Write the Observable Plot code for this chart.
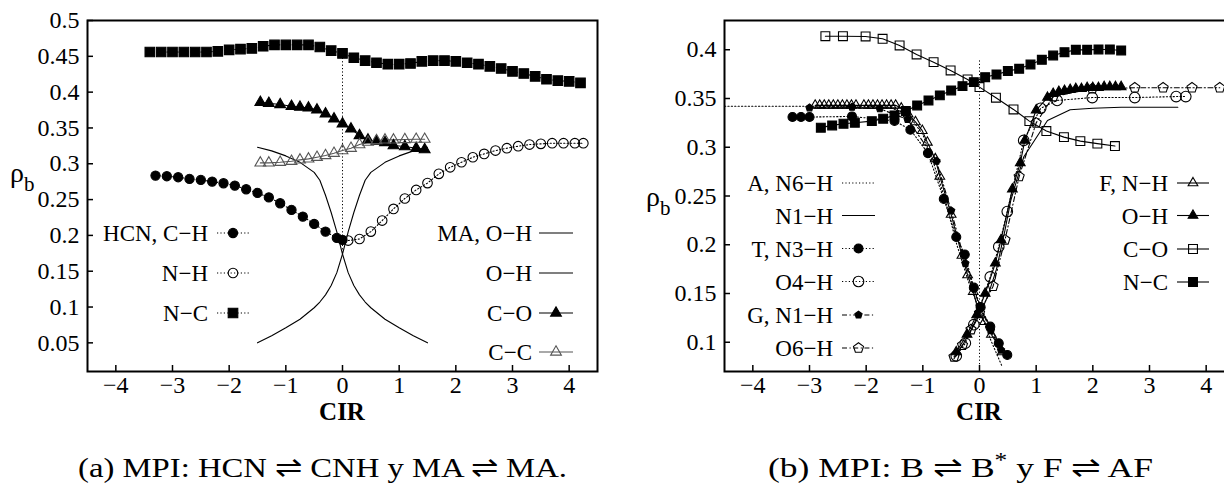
<!DOCTYPE html>
<html><head><meta charset="utf-8">
<script src="https://cdn.jsdelivr.net/npm/d3@7"></script>
<script src="https://cdn.jsdelivr.net/npm/@observablehq/plot@0.6"></script>
<style>
html,body{margin:0;padding:0;background:#fff;overflow:hidden;}
#root{position:relative;width:1224px;height:489px;overflow:hidden;background:#fff;}
.panel{position:absolute;top:0;}
</style></head><body><div id="root"></div>
<script>
// ---------- shared ticks ----------
const xTicks = [-4, -3, -2, -1, 0, 1, 2, 3, 4];
const yTicksA = [0.05, 0.1, 0.15, 0.2, 0.25, 0.3, 0.35, 0.4, 0.45, 0.5];
const yTicksB = [0.1, 0.15, 0.2, 0.25, 0.3, 0.35, 0.4];
const xDomain = [-4.5, 4.5];
const yDomainA = [0.01, 0.5];
const yDomainB = [0.07, 0.43];

// ---------- panel (a): HCN / MA ----------
const hcnCH_x = [-3.3,-3.1,-2.9,-2.7,-2.5,-2.3,-2.1,-1.9,-1.7,-1.5,-1.3,-1.1,-0.9,-0.7,-0.5,-0.3,-0.1,0.0];
const hcnCH_y = [0.2835,0.2826,0.2812,0.2789,0.2775,0.2751,0.2728,0.2696,0.2644,0.2593,0.253,0.2449,0.2356,0.2263,0.216,0.2053,0.1965,0.1937];
const hcnNH_x = [0.1,0.3,0.5,0.7,0.9,1.1,1.3,1.5,1.7,1.9,2.1,2.3,2.5,2.7,2.9,3.1,3.3,3.5,3.7,3.9,4.1,4.25];
const hcnNH_y = [0.1928,0.195,0.2053,0.2207,0.237,0.2515,0.2635,0.273,0.2859,0.2951,0.3021,0.3091,0.3138,0.3184,0.3217,0.3245,0.3268,0.3278,0.3287,0.3287,0.3287,0.3287];
const hcnNC_x = [-3.4,-3.2,-3.0,-2.8,-2.6,-2.4,-2.2,-2.0,-1.8,-1.6,-1.4,-1.2,-1.0,-0.8,-0.6,-0.4,-0.2,0.0,0.2,0.4,0.6,0.8,1.0,1.2,1.4,1.6,1.8,2.0,2.2,2.4,2.6,2.8,3.0,3.2,3.4,3.6,3.8,4.0,4.2];
const hcnNC_y = [0.456,0.456,0.456,0.456,0.456,0.456,0.457,0.459,0.460,0.461,0.464,0.466,0.466,0.466,0.466,0.463,0.458,0.454,0.448,0.444,0.441,0.439,0.439,0.440,0.443,0.444,0.444,0.443,0.441,0.439,0.436,0.433,0.429,0.426,0.422,0.418,0.416,0.415,0.413];
const maOH1_x = [-1.5,-1.25,-1.0,-0.75,-0.5,-0.4,-0.3,-0.2,-0.1,0.0,0.1,0.2,0.3,0.4,0.5,0.75,1.0,1.25,1.5];
const maOH1_y = [0.323,0.318,0.311,0.302,0.288,0.277,0.256,0.232,0.205,0.174,0.148,0.130,0.117,0.107,0.099,0.083,0.071,0.060,0.050];
const maOH2_x = [-1.5,-1.25,-1.0,-0.75,-0.5,-0.4,-0.3,-0.2,-0.1,0.0,0.1,0.2,0.3,0.4,0.5,0.75,1.0,1.25,1.5];
const maOH2_y = [0.050,0.060,0.071,0.083,0.099,0.107,0.117,0.130,0.148,0.174,0.205,0.232,0.256,0.277,0.288,0.302,0.311,0.318,0.323];
const maCO_x = [-1.45,-1.3,-1.1,-0.9,-0.75,-0.6,-0.45,-0.3,-0.15,0.0,0.15,0.3,0.45,0.6,0.75,0.9,1.1,1.3,1.45];
const maCO_y = [0.3859,0.3845,0.3827,0.3803,0.379,0.378,0.3752,0.3697,0.3627,0.3557,0.3487,0.3394,0.3333,0.3315,0.3296,0.3254,0.324,0.3217,0.3198];
const maCC_x = [-1.45,-1.3,-1.1,-0.9,-0.75,-0.6,-0.45,-0.3,-0.15,0.0,0.15,0.3,0.45,0.6,0.75,0.9,1.1,1.3,1.45];
const maCC_y = [0.3012,0.3012,0.3021,0.3035,0.3054,0.3068,0.3091,0.3115,0.3147,0.3184,0.3217,0.3268,0.3301,0.3324,0.3333,0.3333,0.3338,0.3343,0.3343];
const guideA = {x: 0, y1: 0.175, y2: 0.454};

// ---------- panel (b): bases ----------
const aN6H_x = [-4.5,-3.0,-2.0,-1.6,-1.4,-1.2,-1.0,-0.8,-0.6,-0.4,-0.2,0.0,0.2,0.4];
const aN6H_y = [0.342,0.342,0.342,0.341,0.337,0.329,0.313,0.282,0.245,0.200,0.163,0.133,0.102,0.075];
const aN1H_x = [-0.45,-0.3,-0.15,0.0,0.15,0.3,0.45,0.55,0.78,1.2,1.6,2.0,2.5,3.0,3.5];
const aN1H_y = [0.083,0.097,0.112,0.128,0.148,0.175,0.215,0.245,0.290,0.3275,0.3385,0.340,0.341,0.341,0.341];
const tN3H_x = [-3.3,-3.15,-3.0,-2.25,-1.5,-1.22,-0.91,-0.63,-0.41,-0.26,-0.1,0.02,0.19,0.34,0.49];
const tN3H_y = [0.331,0.331,0.331,0.3316,0.327,0.318,0.294,0.247,0.208,0.190,0.156,0.136,0.116,0.099,0.087];
const tO4H_x = [-0.41,-0.25,-0.1,0.19,0.34,0.49,0.78,1.08,1.37,1.99,2.74,3.47,3.64];
const tO4H_y = [0.086,0.099,0.118,0.167,0.198,0.234,0.307,0.340,0.348,0.351,0.351,0.352,0.352];
const gN1H_x = [-3.0,-2.25,-1.76,-1.27,-0.76,-0.5,-0.25,0.0,0.2,0.38];
const gN1H_y = [0.3405,0.3412,0.3395,0.3286,0.2858,0.235,0.181,0.137,0.112,0.092];
const gO6H_x = [-0.45,-0.3,-0.15,0.0,0.24,0.45,0.7,1.0,1.3,1.99,2.74,3.24,3.75,4.24];
const gO6H_y = [0.085,0.097,0.113,0.130,0.1575,0.205,0.270,0.325,0.352,0.360,0.361,0.361,0.361,0.361];
const fNH_x = [-2.9,-2.82,-2.74,-2.66,-2.58,-2.5,-2.42,-2.34,-2.26,-2.18,-2.04,-1.96,-1.88,-1.8,-1.72,-1.64,-1.56,-1.48,-1.38,-1.26,-1.13,-1.01,-0.92,-0.78,-0.7,-0.5,-0.31,-0.21,-0.11,-0.01,0.09,0.21,0.4];
const fNH_y = [0.343,0.343,0.343,0.343,0.343,0.343,0.343,0.343,0.343,0.343,0.343,0.343,0.343,0.343,0.343,0.343,0.343,0.343,0.340,0.334,0.326,0.317,0.305,0.288,0.270,0.231,0.189,0.169,0.152,0.130,0.121,0.108,0.090];
const fOH_x = [-0.41,-0.22,-0.05,0.1,0.28,0.38,0.58,0.72,0.8,1.0,1.2,1.3,1.4,1.5,1.6,1.7,1.8,1.9,2.0,2.1,2.2,2.3,2.4,2.5];
const fOH_y = [0.090,0.108,0.128,0.150,0.181,0.205,0.257,0.284,0.307,0.338,0.351,0.355,0.357,0.358,0.359,0.360,0.360,0.361,0.361,0.361,0.362,0.362,0.362,0.362];
const fCO_x = [-2.72,-2.41,-2.01,-1.71,-1.41,-1.11,-0.81,-0.51,-0.21,0.0,0.29,0.6,0.88,1.18,1.49,1.78,2.08,2.39];
const fCO_y = [0.4139,0.4139,0.4136,0.4112,0.4044,0.3952,0.3873,0.3788,0.3695,0.3617,0.3508,0.3388,0.3268,0.3166,0.3104,0.3063,0.3037,0.3012];
const fNC_x = [-2.8,-2.6,-2.4,-2.2,-1.9,-1.7,-1.5,-1.3,-1.1,-0.9,-0.7,-0.5,-0.3,-0.1,0.1,0.3,0.5,0.7,0.9,1.1,1.3,1.5,1.7,1.9,2.1,2.3,2.5];
const fNC_y = [0.3201,0.3224,0.3241,0.3252,0.3268,0.3293,0.3327,0.3371,0.3429,0.348,0.3532,0.3583,0.3627,0.3668,0.3719,0.3747,0.3781,0.3805,0.3849,0.3897,0.3941,0.3975,0.3999,0.3999,0.4003,0.4003,0.3993];
const guideB = {x: 0, y1: 0.07, y2: 0.389};

// ---------- texts ----------
const xLabel = "CIR";
const captionA = "(a) MPI: HCN \u21CC CNH y MA \u21CC MA.";
const captionB = ["(b) MPI: B \u21CC B", "*", " y F \u21CC AF"];

// ---------- styling helpers ----------
const FONT = "'Liberation Serif','Times New Roman',serif";
const DOT = "1.2,2.2";
const DASHDOT = "5,2.5,1.2,2.5";
const pentagon = {
  draw(ctx, size) {
    const r = Math.sqrt(size / 2.378);
    for (let i = 0; i < 5; i++) {
      const a = -Math.PI / 2 + i * 2 * Math.PI / 5;
      const px = r * Math.cos(a), py = r * Math.sin(a);
      if (i) ctx.lineTo(px, py); else ctx.moveTo(px, py);
    }
    ctx.closePath();
  }
};
const symPlot = {circle: "circle", square: "square", triangle: "triangle", pentagon};
const symD3 = {circle: d3.symbolCircle, square: d3.symbolSquare, triangle: d3.symbolTriangle, pentagon};

const seriesA = [
  {label: "HCN, C\u2212H", x: hcnCH_x, y: hcnCH_y, dash: DOT, sym: "circle", r: 4.6, filled: true},
  {label: "N\u2212H", x: hcnNH_x, y: hcnNH_y, dash: DOT, sym: "circle", r: 4.8, filled: false},
  {label: "N\u2212C", x: hcnNC_x, y: hcnNC_y, dash: DOT, sym: "square", r: 5.4, filled: true},
  {label: "MA, O\u2212H", x: maOH1_x, y: maOH1_y, dash: null, sym: null},
  {label: "O\u2212H", x: maOH2_x, y: maOH2_y, dash: null, sym: null},
  {label: "C\u2212O", x: maCO_x, y: maCO_y, dash: null, sym: "triangle", r: 4, filled: true},
  {label: "C\u2212C", x: maCC_x, y: maCC_y, dash: null, sym: "triangle", r: 4, filled: false, color: "#555"}
];
const seriesB = [
  {label: "A, N6\u2212H", x: aN6H_x, y: aN6H_y, dash: DOT, sym: null},
  {label: "N1\u2212H", x: aN1H_x, y: aN1H_y, dash: null, sym: null},
  {label: "T, N3\u2212H", x: tN3H_x, y: tN3H_y, dash: DOT, sym: "circle", r: 4.5, filled: true},
  {label: "O4\u2212H", x: tO4H_x, y: tO4H_y, dash: DOT, sym: "circle", r: 5.3, filled: false},
  {label: "G, N1\u2212H", x: gN1H_x, y: gN1H_y, dash: DASHDOT, sym: "pentagon", r: 3.3, filled: true},
  {label: "O6\u2212H", x: gO6H_x, y: gO6H_y, dash: DASHDOT, sym: "pentagon", r: 4.6, filled: false},
  {label: "F, N\u2212H", x: fNH_x, y: fNH_y, dash: null, sym: "triangle", r: 3.6, filled: false},
  {label: "O\u2212H", x: fOH_x, y: fOH_y, dash: null, sym: "triangle", r: 3.6, filled: true},
  {label: "C\u2212O", x: fCO_x, y: fCO_y, dash: null, sym: "square", r: 5, filled: false},
  {label: "N\u2212C", x: fNC_x, y: fNC_y, dash: null, sym: "square", r: 5, filled: true}
];

const fmtX = d => (d < 0 ? "\u2212" + Math.abs(d) : String(d));
const fmtY = d => String(+d.toFixed(2));

function panel({width, marginLeft, marginRight, yDomain, yTicks, series, guide}) {
  const height = 440, marginTop = 20, marginBottom = 69;
  const plotW = width - marginLeft - marginRight, plotH = height - marginTop - marginBottom;
  const marks = [];
  marks.push(Plot.ruleX([guide], {x: "x", y1: "y1", y2: "y2", stroke: "#000", strokeWidth: 1, strokeDasharray: DOT}));
  for (const s of series) {
    const data = s.x.map((x, i) => ({x, y: s.y[i]}));
    marks.push(Plot.line(data, {x: "x", y: "y", stroke: s.color || "#000", strokeWidth: 1.1, strokeDasharray: s.dash || undefined}));
  }
  for (const s of series) {
    if (!s.sym) continue;
    const data = s.x.map((x, i) => ({x, y: s.y[i]}));
    marks.push(Plot.dot(data, {x: "x", y: "y", symbol: symPlot[s.sym], r: s.r,
      fill: s.filled ? "#000" : "none", stroke: s.color || "#000", strokeWidth: 1.1}));
  }
  marks.push(Plot.tickX(xTicks, {x: d => d, insetTop: plotH - 6, stroke: "#000", strokeWidth: 1.5}));
  marks.push(Plot.tickY(yTicks, {y: d => d, insetRight: plotW - 6, stroke: "#000", strokeWidth: 1.5}));
  marks.push(Plot.axisX(xTicks, {tickSize: 0, tickPadding: 4, tickFormat: fmtX, label: null, fontSize: 24}));
  marks.push(Plot.axisY(yTicks, {tickSize: 0, tickPadding: 8, tickFormat: fmtY, label: null, fontSize: 24}));
  marks.push(Plot.frame({stroke: "#000", strokeWidth: 2}));
  return Plot.plot({
    width, height, marginLeft, marginRight, marginTop, marginBottom,
    x: {domain: xDomain}, y: {domain: yDomain},
    style: {fontFamily: FONT, fontSize: "24px", background: "transparent", color: "#000", overflow: "visible"},
    marks
  });
}

const root = document.getElementById("root");
const left = document.createElement("div");
left.className = "panel"; left.style.left = "0px"; left.style.width = "610px";
left.appendChild(panel({width: 610, marginLeft: 87, marginRight: 13, yDomain: yDomainA, yTicks: yTicksA, series: seriesA, guide: guideA}));
root.appendChild(left);
const right = document.createElement("div");
right.className = "panel"; right.style.left = "610px"; right.style.width = "640px";
right.appendChild(panel({width: 640, marginLeft: 114, marginRight: 16, yDomain: yDomainB, yTicks: yTicksB, series: seriesB, guide: guideB}));
root.appendChild(right);

// ---------- overlay: labels, legends, captions ----------
const ov = d3.create("svg").attr("width", 1224).attr("height", 489)
  .style("position", "absolute").style("left", "0px").style("top", "0px")
  .style("font-family", FONT).style("pointer-events", "none");

function legend(rows, textEnd, x1, x2, ys) {
  rows.forEach((s, i) => {
    const cy = ys[i];
    ov.append("text").attr("x", textEnd).attr("y", cy + 8.3).attr("text-anchor", "end")
      .attr("font-size", 23).attr("fill", "#000").text(s.label);
    ov.append("line").attr("x1", x1).attr("x2", x2).attr("y1", cy).attr("y2", cy)
      .attr("stroke", s.color || "#000").attr("stroke-width", 1.1)
      .attr("stroke-dasharray", s.dash || null);
    if (s.sym) {
      ov.append("path").attr("transform", `translate(${(x1 + x2) / 2},${cy})`)
        .attr("d", d3.symbol(symD3[s.sym], s.r * s.r * Math.PI)())
        .attr("fill", s.filled ? "#000" : "none").attr("stroke", s.color || "#000").attr("stroke-width", 1.1);
    }
  });
}
legend(seriesA.slice(0, 3), 208, 217, 249, [233, 273, 313]);
legend(seriesA.slice(3), 532, 539, 573, [233, 273, 313, 352]);
legend(seriesB.slice(0, 6), 833, 842, 875, [183, 215.5, 248.5, 281.5, 315, 348]);
legend(seriesB.slice(6), 1168, 1177, 1209, [183, 215.5, 249, 282]);

// axis titles
ov.append("text").attr("x", 342).attr("y", 420).attr("text-anchor", "middle")
  .attr("font-size", 25).attr("font-weight", "bold").text(xLabel);
ov.append("text").attr("x", 979).attr("y", 420).attr("text-anchor", "middle")
  .attr("font-size", 25).attr("font-weight", "bold").text(xLabel);
// rho_b labels
function rho(x, y) {
  const t = ov.append("text").attr("x", x).attr("y", y).attr("font-size", 28);
  t.append("tspan").text("\u03C1");
  t.append("tspan").attr("dy", 9).attr("font-size", 21).text("b");
}
rho(10, 182);
rho(646, 206);

// captions (wider Computer-Modern-like setting)
ov.append("text").attr("x", 78).attr("y", 477)
  .attr("font-size", 28).attr("textLength", 489).attr("lengthAdjust", "spacingAndGlyphs").text(captionA);
const cb = ov.append("text").attr("x", 768).attr("y", 477).attr("font-size", 28)
  .attr("textLength", 385).attr("lengthAdjust", "spacingAndGlyphs");
cb.append("tspan").text(captionB[0]);
cb.append("tspan").attr("dy", -10).attr("font-size", 20).text(captionB[1]);
cb.append("tspan").attr("dy", 10).text(captionB[2]);

root.appendChild(ov.node());
</script></body></html>
